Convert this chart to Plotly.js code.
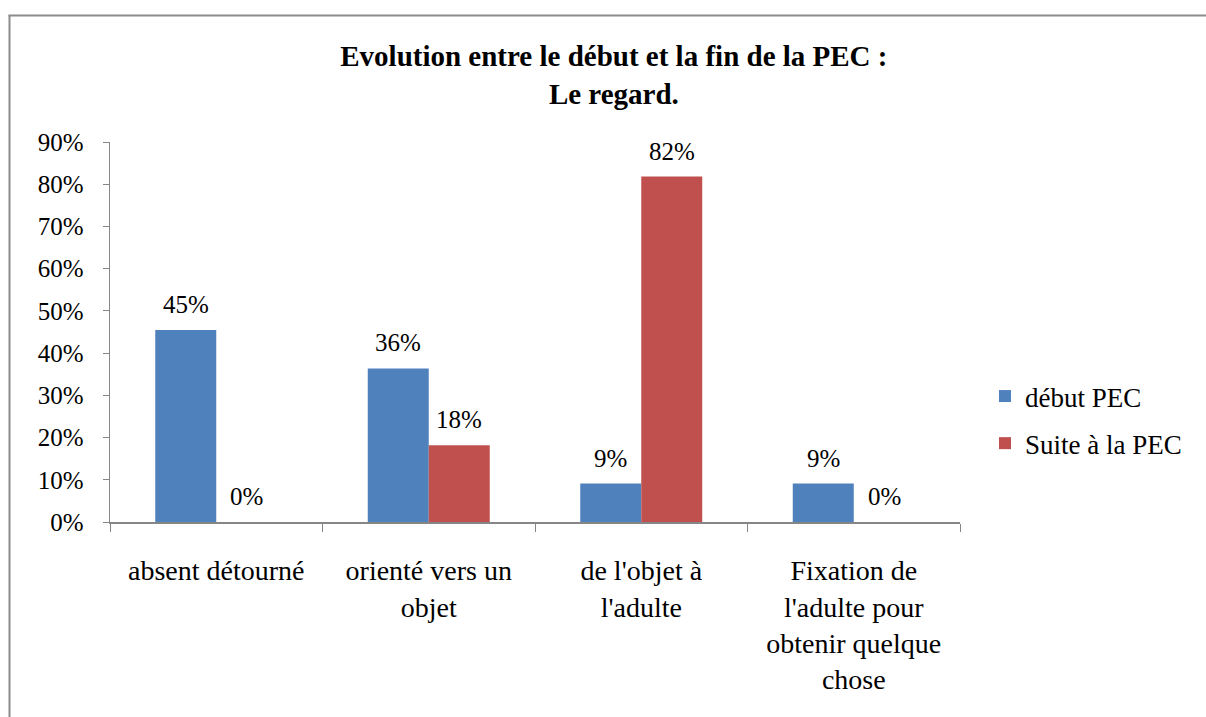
<!DOCTYPE html>
<html><head><meta charset="utf-8">
<script src="https://cdn.plot.ly/plotly-3.0.1.min.js"></script>
<style>body{margin:0;background:#fff}#c{width:1206px;height:717px}</style>
</head><body><div id="c"></div>
<script>
var categories = ["absent détourné", "orienté vers un<br>objet", "de l'objet à<br>l'adulte", "Fixation de<br>l'adulte pour<br>obtenir quelque<br>chose"];
var seriesNames = ["début PEC", "Suite à la PEC"];
var debutPEC = [45.45, 36.36, 9.09, 9.09];
var suitePEC = [0, 18.18, 81.82, 0];
var yTicks = [0, 10, 20, 30, 40, 50, 60, 70, 80, 90];

var F = "'Liberation Serif', serif";
var colors = ['#4F81BD', '#C0504D'];
var series = [debutPEC, suitePEC];
var W = 850, H = 380, BARGAP = 0.426;
function px(x){return (x-110)/W;} function py(y){return (522-y)/H;}

var data = series.map(function(vals, i){
  return {type: 'bar', name: seriesNames[i], x: categories, y: vals, marker: {color: colors[i]},
    legendgroup: 'g' + i, hoverinfo: 'none'};
});
var catW = W / categories.length;
var barW = catW * (1 - BARGAP) / series.length;
var annotations = [];
series.forEach(function(vals, i){
  vals.forEach(function(v, j){
    annotations.push({x: categories[j], y: v, xref: 'x', yref: 'y', text: Math.round(v) + '%', showarrow: false,
      xanchor: 'center', yanchor: 'bottom', xshift: (i - (series.length - 1) / 2) * barW, yshift: 10,
      font: {family: F, size: 25, color: '#000'}});
  });
});
var layout = {
  width: 1206, height: 717, paper_bgcolor: '#fff', plot_bgcolor: '#fff',
  margin: {l: 110, r: 246, t: 142, b: 195},
  font: {family: F, color: '#000'},
  title: {text: '<b>Evolution entre le début et la fin de la PEC :<br>Le regard.</b>', font: {family: F, size: 29, color: '#000'},
    xref: 'container', x: 0.509, xanchor: 'center', yref: 'container', y: 1 - 66/717, yanchor: 'top'},
  bargap: BARGAP, bargroupgap: 0,
  xaxis: {type: 'category', showline: true, linecolor: '#868686', linewidth: 1.5, ticks: 'outside', ticklen: 8, tickcolor: '#868686',
    tickson: 'boundaries', tickfont: {family: F, size: 28}, showgrid: false, ticklabelstandoff: 23, fixedrange: true},
  yaxis: {range: [0, 90], tickvals: yTicks, ticktext: yTicks.map(function(t){return t + '%';}), showline: true, linecolor: '#868686', linewidth: 1.5,
    ticks: 'outside', ticklen: 6, tickcolor: '#868686', showgrid: false, zeroline: false, tickfont: {family: F, size: 25}, ticklabelstandoff: 14},
  legend: {x: px(985), xanchor: 'left', y: py(420), yanchor: 'middle', font: {family: F, size: 27}, itemwidth: 30,
    traceorder: 'grouped', tracegroupgap: 9, bgcolor: 'rgba(0,0,0,0)'},
  showlegend: true,
  annotations: annotations,
  shapes: [
    {type: 'line', xref: 'paper', yref: 'paper', x0: px(9.5), x1: px(9.5), y0: py(15), y1: py(720), line: {color: '#8c8c8c', width: 2}},
    {type: 'line', xref: 'paper', yref: 'paper', x0: px(8.5), x1: px(1210), y0: py(15.5), y1: py(15.5), line: {color: '#8c8c8c', width: 2}}
  ]
};
Plotly.newPlot('c', data, layout, {displayModeBar: false, staticPlot: true});
</script></body></html>
